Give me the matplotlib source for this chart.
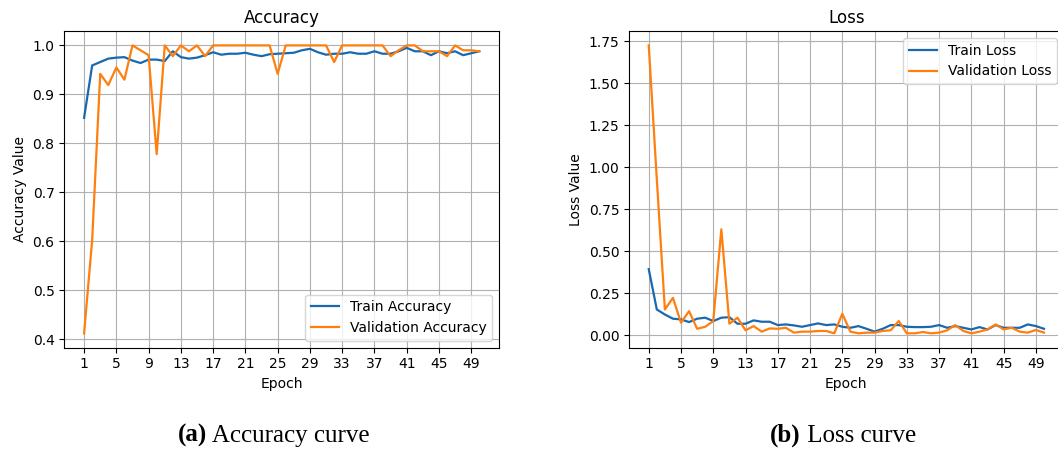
import numpy as np
import matplotlib
matplotlib.use('Agg')
import matplotlib.pyplot as plt

# ─── DATA ────────────────────────────────────────────────────────────────────
epochs = np.arange(1, 51)
xticks = list(range(1, 51, 4))

train_acc = [0.852, 0.959, 0.966, 0.973, 0.975, 0.976, 0.969, 0.964, 0.971, 0.971,
             0.968, 0.988, 0.976, 0.973, 0.975, 0.980, 0.986, 0.981, 0.983, 0.983,
             0.985, 0.981, 0.978, 0.982, 0.983, 0.984, 0.985, 0.990, 0.993, 0.986,
             0.981, 0.983, 0.983, 0.986, 0.983, 0.983, 0.988, 0.983, 0.983, 0.988,
             0.995, 0.988, 0.988, 0.980, 0.988, 0.984, 0.988, 0.980, 0.984, 0.988]
val_acc = [0.412, 0.602, 0.942, 0.919, 0.955, 0.930, 1.000, 0.990, 0.980, 0.778,
           1.000, 0.978, 1.000, 0.988, 1.000, 0.978, 1.000, 1.000, 1.000, 1.000,
           1.000, 1.000, 1.000, 1.000, 0.942, 1.000, 1.000, 1.000, 1.000, 1.000,
           1.000, 0.966, 1.000, 1.000, 1.000, 1.000, 1.000, 1.000, 0.978, 0.990,
           1.000, 1.000, 0.988, 0.988, 0.988, 0.978, 1.000, 0.990, 0.990, 0.988]

train_loss = [0.394, 0.154, 0.124, 0.099, 0.095, 0.079, 0.099, 0.105, 0.085, 0.105,
              0.108, 0.069, 0.069, 0.089, 0.081, 0.081, 0.061, 0.065, 0.059, 0.051,
              0.061, 0.071, 0.061, 0.065, 0.051, 0.045, 0.055, 0.039, 0.022, 0.039,
              0.061, 0.061, 0.051, 0.049, 0.049, 0.051, 0.061, 0.045, 0.055, 0.045,
              0.035, 0.049, 0.035, 0.061, 0.045, 0.045, 0.045, 0.065, 0.055, 0.039]
val_loss = [1.726, 0.930, 0.154, 0.223, 0.075, 0.144, 0.039, 0.051, 0.085, 0.631,
            0.069, 0.105, 0.030, 0.055, 0.022, 0.041, 0.039, 0.045, 0.016, 0.022,
            0.022, 0.026, 0.026, 0.012, 0.128, 0.022, 0.012, 0.016, 0.016, 0.026,
            0.030, 0.085, 0.012, 0.012, 0.020, 0.012, 0.016, 0.030, 0.061, 0.026,
            0.012, 0.022, 0.035, 0.065, 0.035, 0.045, 0.022, 0.016, 0.032, 0.016]

BLUE = '#1869b0'
ORANGE = '#ff7f0e'

fig = plt.figure(figsize=(10.58, 4.5), dpi=100)
# right panel runs slightly past the figure edge, as in the cropped original
ax1 = fig.add_axes([0.0608, 0.2273, 0.4109, 0.7038])
ax2 = fig.add_axes([0.5945, 0.2273, 0.4109, 0.7038])

# ─── (a) Accuracy ────────────────────────────────────────────────────────────
ax1.plot(epochs, train_acc, color=BLUE, lw=1.6, label='Train Accuracy')
ax1.plot(epochs, val_acc, color=ORANGE, lw=1.6, label='Validation Accuracy')
ax1.set_title('Accuracy', fontsize=12)
ax1.set_xlabel('Epoch', fontsize=10)
ax1.set_ylabel('Accuracy Value', fontsize=10)
ax1.legend(loc='lower right', fontsize=10)

# ─── (b) Loss ────────────────────────────────────────────────────────────────
ax2.plot(epochs, train_loss, color=BLUE, lw=1.6, label='Train Loss')
ax2.plot(epochs, val_loss, color=ORANGE, lw=1.6, label='Validation Loss')
ax2.set_title('Loss', fontsize=12)
ax2.set_xlabel('Epoch', fontsize=10)
ax2.set_ylabel('Loss Value', fontsize=10)
ax2.legend(loc='upper right', fontsize=10)

for ax in (ax1, ax2):
    ax.set_xticks(xticks)
    ax.grid(True)
    ax.tick_params(labelsize=10)


# ─── captions: bold tag followed by regular text ─────────────────────────────
def caption(x, tag, rest):
    t = fig.text(x, 0.018, tag, family='Liberation Serif', fontsize=18,
                 fontweight='bold', ha='left', va='baseline')
    ax2.annotate(' ' + rest, xy=(1, 0), xycoords=t, va='bottom',
                 family='Liberation Serif', fontsize=18)


caption(178 / 1058, '(a)', 'Accuracy curve')
caption(770 / 1058, '(b)', 'Loss curve')

plt.savefig('out.png', dpi=100)
